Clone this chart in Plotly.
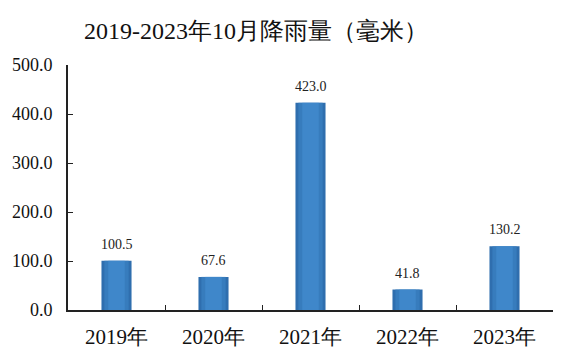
import plotly.graph_objects as go

categories = ["2019年", "2020年", "2021年", "2022年", "2023年"]
rainfall = [100.5, 67.6, 423.0, 41.8, 130.2]
y_ticks = [0, 100, 200, 300, 400, 500]
y_tick_labels = ["0.0", "100.0", "200.0", "300.0", "400.0", "500.0"]

SERIF = "'Liberation Serif', 'Times New Roman', 'DejaVu Serif', serif"

fig = go.Figure()
layers = [(0.31, "#2f6eae", 1.0), (0.25, "#3a7fc1", 0.8), (0.17, "#4590d2", 0.6)]
for w, c, op in layers:
    fig.add_trace(go.Bar(
        x=categories, y=rainfall, width=w,
        marker=dict(color=c, opacity=op, line=dict(width=0)),
        hoverinfo="skip" if w != 0.31 else None, showlegend=False,
    ))

for cat, v in zip(categories, rainfall):
    fig.add_annotation(x=cat, y=v, text=f"{v:.1f}", showarrow=False,
                       yanchor="bottom", yshift=7,
                       font=dict(family=SERIF, size=14, color="#222"))

fig.update_layout(
    width=583, height=353, barmode="overlay",
    margin=dict(l=68, r=30, t=65, b=43),
    plot_bgcolor="white", paper_bgcolor="white",
    showlegend=False,
    title=dict(text="2019-2023年10月降雨量（毫米）", x=256/583, xanchor="center",
               y=1-31/353, yanchor="middle", yref="container",
               font=dict(family=SERIF, size=24, color="#111")),
    xaxis=dict(showline=True, linecolor="#222", linewidth=2, ticks="inside",
               tickson="boundaries", ticklen=5, tickcolor="#222",
               tickfont=dict(family=SERIF, size=21, color="#111"),
               ticklabelstandoff=7, automargin=False,
               showgrid=False, zeroline=False),
    yaxis=dict(range=[0, 500], tickvals=y_ticks, ticktext=y_tick_labels,
               showline=True, linecolor="#222", linewidth=2, ticks="inside",
               ticklen=5, tickcolor="#222", showgrid=False, zeroline=False,
               automargin=False,
               tickfont=dict(family=SERIF, size=18, color="#111"), ticklabelstandoff=10),
)

fig.write_html("out.html")
